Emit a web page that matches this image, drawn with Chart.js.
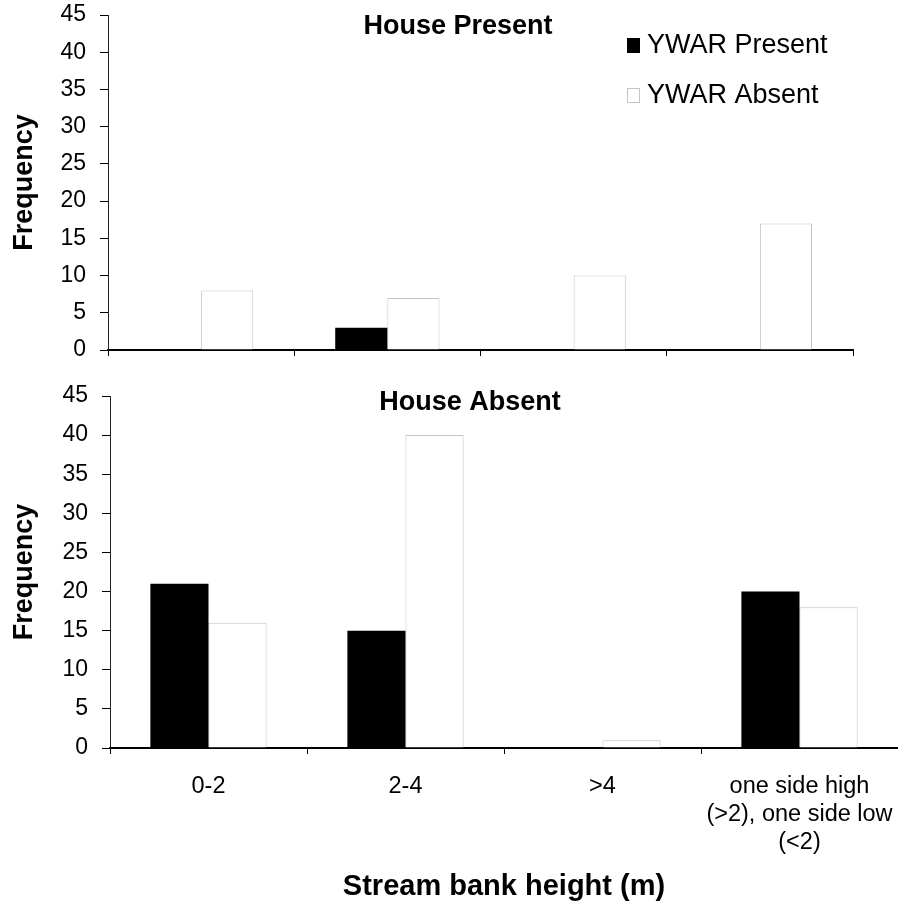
<!DOCTYPE html>
<html>
<head>
<meta charset="utf-8">
<title>YWAR and stream bank height</title>
<script src="https://cdn.jsdelivr.net/npm/chart.js@4.4.1/dist/chart.umd.min.js"></script>
<style>
  html, body { margin: 0; padding: 0; background: #fff; }
  #wrap { position: relative; width: 898px; height: 906px; }
  canvas { position: absolute; left: 0; }
  #housePresent { top: 0; }
  #houseAbsent { top: 370px; }
</style>
</head>
<body>
<div id="wrap">
  <canvas id="housePresent" width="898" height="370"></canvas>
  <canvas id="houseAbsent" width="898" height="536"></canvas>
</div>
<script>
// Data
const categories = ['0-2', '2-4', '>4', ['one side high', '(>2), one side low', '(<2)']];
const seriesNames = ['YWAR Present', 'YWAR Absent'];

// House Present panel
const housePresentYwarPresent = [0, 3, 0, 0];
const housePresentYwarAbsent = [8, 7, 10, 17];

// House Absent panel
const houseAbsentYwarPresent = [21, 15, 0, 20];
const houseAbsentYwarAbsent = [16, 40, 1, 18];

const yMin = 0;
const yMax = 45;
const yStep = 5;

const FONT = "'Liberation Sans', Arial, Helvetica, sans-serif";
Chart.defaults.font.family = FONT;
Chart.defaults.color = '#000';

// Panel title + legend drawn inside the plot area
const panelText = {
    id: 'panelText',
    afterDraw(chart, args, opts) {
        const ctx = chart.ctx;
        ctx.save();
        ctx.fillStyle = '#000';
        ctx.textBaseline = 'middle';
        ctx.textAlign = 'center';
        ctx.font = 'bold 27px ' + FONT;
        ctx.fillText(opts.title, opts.titleX, opts.titleY);

        if (opts.legend) {
            ctx.font = '27px ' + FONT;
            ctx.textAlign = 'left';
            chart.data.datasets.forEach((ds, i) => {
                const y = opts.legendY + i * 50;
                ctx.fillStyle = ds.backgroundColor;
                ctx.fillRect(opts.legendX, y - 7, 13, 15);
                ctx.strokeStyle = ds.borderColor;
                ctx.lineWidth = 1;
                ctx.strokeRect(opts.legendX + 0.5, y - 6.5, 12, 14);
                ctx.fillStyle = '#000';
                ctx.fillText(ds.label, opts.legendX + 20, y + 1);
            });
        }
        ctx.restore();
    }
};

function makeDatasets(present, absent) {
    return [{
        label: seriesNames[0],
        data: present,
        backgroundColor: '#000',
        borderColor: '#000',
        borderWidth: 0
    }, {
        label: seriesNames[1],
        data: absent,
        backgroundColor: '#fff',
        borderColor: '#c4c4c4',
        borderWidth: 1,
        borderSkipped: 'bottom'
    }];
}

// drop the automatic label overhang padding so the plot area is set by layout.padding
function noPadding(scale) {
    scale.paddingTop = 0;
    scale.paddingBottom = 0;
    scale.paddingLeft = 0;
    scale.paddingRight = 0;
}

function makeChart(id, present, absent, cfg) {
    const ctx = document.getElementById(id).getContext('2d');
    return new Chart(ctx, {
        type: 'bar',
        data: {
            labels: categories,
            datasets: makeDatasets(present, absent)
        },
        options: {
            responsive: false,
            animation: false,
            categoryPercentage: cfg.catPct,
            barPercentage: 1.0,
            layout: { padding: cfg.padding },
            plugins: {
                legend: { display: false },
                tooltip: { enabled: false },
                panelText: cfg.text
            },
            scales: {
                x: {
                    grid: {
                        display: true,
                        drawOnChartArea: false,
                        drawTicks: true,
                        tickLength: 6,
                        color: '#000',
                        lineWidth: 1
                    },
                    border: { display: true, color: '#000', width: 2 },
                    ticks: {
                        display: cfg.showLabels,
                        font: { size: 23.5, lineHeight: 1.19 },
                        padding: 19,
                        maxRotation: 0,
                        autoSkip: false
                    },
                    title: {
                        display: cfg.showLabels,
                        text: 'Stream bank height (m)',
                        font: { size: 29, weight: 'bold' },
                        padding: { top: 0, bottom: 2 }
                    },
                    afterFit: function (scale) {
                        scale.height = cfg.xHeight;
                        noPadding(scale);
                    }
                },
                y: {
                    min: yMin,
                    max: yMax,
                    grid: {
                        display: true,
                        drawOnChartArea: false,
                        drawTicks: true,
                        tickLength: 8,
                        color: '#000',
                        lineWidth: 1
                    },
                    border: { display: true, color: '#222', width: 1 },
                    ticks: {
                        stepSize: yStep,
                        font: { size: 23 },
                        padding: 14
                    },
                    title: {
                        display: true,
                        text: 'Frequency',
                        font: { size: 27, weight: 'bold' },
                        padding: { top: 8, bottom: 0 }
                    },
                    afterFit: function (scale) {
                        scale.width = cfg.yWidth;
                        noPadding(scale);
                    }
                }
            }
        },
        plugins: [panelText]
    });
}

makeChart('housePresent', housePresentYwarPresent, housePresentYwarAbsent, {
    catPct: 0.56,
    padding: { left: 0, right: 45, top: 15, bottom: 0 },
    showLabels: false,
    xHeight: 20,
    yWidth: 108,
    text: { title: 'House Present', titleX: 458, titleY: 27, legend: true, legendX: 627, legendY: 45 }
});

makeChart('houseAbsent', houseAbsentYwarPresent, houseAbsentYwarAbsent, {
    catPct: 0.59,
    padding: { left: 0, right: 0, top: 26, bottom: 0 },
    showLabels: true,
    xHeight: 158,
    yWidth: 110,
    text: { title: 'House Absent', titleX: 470, titleY: 33, legend: false }
});
</script>
</body>
</html>
